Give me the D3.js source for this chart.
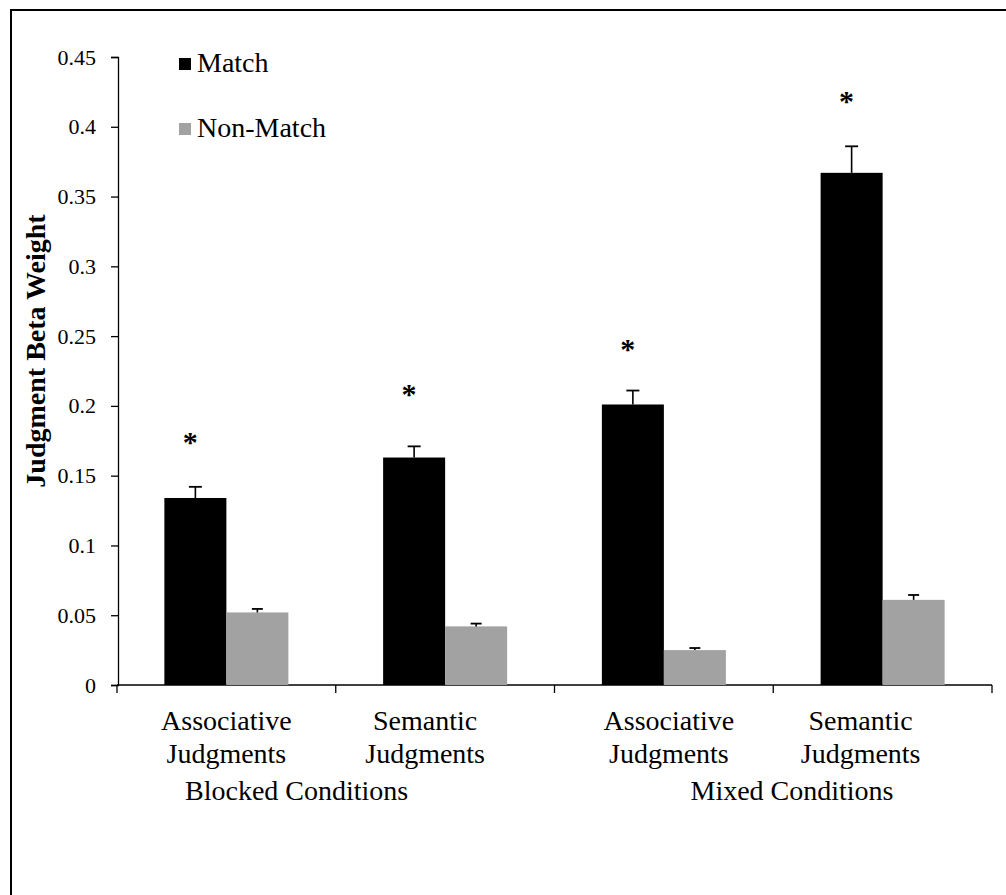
<!DOCTYPE html>
<html><head><meta charset="utf-8">
<script src="https://cdn.jsdelivr.net/npm/d3@7"></script>
</head><body style="margin:0">
<svg id="c" width="1006" height="895" style="font-family:'Liberation Serif',Tinos,'Times New Roman',serif"></svg>
<script>
const categories = ["Blocked Associative","Blocked Semantic","Mixed Associative","Mixed Semantic"];
const labelLine1 = ["Associative","Semantic","Associative","Semantic"];
const labelLine2 = ["Judgments","Judgments","Judgments","Judgments"];
const groupLabels = ["Blocked Conditions","Mixed Conditions"];
const seriesNames = ["Match","Non-Match"];
const matchValues = [0.134,0.163,0.201,0.367];
const matchErrors = [0.008,0.008,0.010,0.019];
const nonMatchValues = [0.052,0.042,0.025,0.061];
const nonMatchErrors = [0.0025,0.002,0.0015,0.0035];
const starValues = [0.178,0.212,0.244,0.422];
const yTicks = [0,0.05,0.1,0.15,0.2,0.25,0.3,0.35,0.4,0.45];
const yTitle = "Judgment Beta Weight";

const FONT = "serif";
const svg = d3.select("#c");
function T(sel){ return sel.attr("font-family",FONT); }

// frame (top and left visible)
svg.append("path").attr("d","M11,895V10H1006").attr("fill","none").attr("stroke","#000").attr("stroke-width",2);

const x = d3.scaleBand().domain(categories).range([117,992]);
const sub = d3.scaleBand().domain(seriesNames).range([0,x.bandwidth()]).paddingOuter(0.764);
const y = d3.scaleLinear().domain([0,0.45]).range([685,57]);

// y axis
const ya = svg.append("g").attr("transform","translate(118,0)")
  .call(d3.axisLeft(y).tickValues(yTicks).tickSize(7).tickPadding(15)
    .tickFormat(d=>String(+d.toFixed(2))));
ya.attr("font-family",FONT).attr("font-size",22);
ya.select(".domain").attr("stroke","#000").attr("stroke-width",1.3);
ya.selectAll(".tick line").attr("stroke","#000").attr("stroke-width",1.3);
T(ya.selectAll(".tick text")).attr("font-size",22).attr("fill","#000");

// x axis
svg.append("line").attr("x1",x.range()[0]).attr("x2",x.range()[1]).attr("y1",y(0)).attr("y2",y(0))
  .attr("stroke","#000").attr("stroke-width",1.5);
const bounds = categories.map(c=>x(c)).concat([x.range()[1]]);
svg.selectAll(".xt").data(bounds).join("line").attr("class","xt")
  .attr("x1",d=>d).attr("x2",d=>d).attr("y1",y(0)).attr("y2",y(0)+8)
  .attr("stroke","#000").attr("stroke-width",1.3);

const fills = ["#000","#a2a2a2"];
const series = [
  {name:"Match", values:matchValues, errors:matchErrors, cap:13},
  {name:"Non-Match", values:nonMatchValues, errors:nonMatchErrors, cap:11}
];
series.forEach((s,si)=>{
  const g = svg.append("g");
  g.selectAll("rect").data(categories).join("rect")
    .attr("x",c=>x(c)+sub(s.name)).attr("width",sub.bandwidth())
    .attr("y",(c,i)=>y(s.values[i])).attr("height",(c,i)=>y(0)-y(s.values[i]))
    .attr("fill",fills[si]);
  const cx = c=>x(c)+sub(s.name)+sub.bandwidth()/2;
  g.selectAll(".ev").data(categories).join("line").attr("class","ev")
    .attr("x1",cx).attr("x2",cx)
    .attr("y1",(c,i)=>y(s.values[i])).attr("y2",(c,i)=>y(s.values[i]+s.errors[i]))
    .attr("stroke","#000").attr("stroke-width",1.6);
  g.selectAll(".eh").data(categories).join("line").attr("class","eh")
    .attr("x1",c=>cx(c)-s.cap/2).attr("x2",c=>cx(c)+s.cap/2)
    .attr("y1",(c,i)=>y(s.values[i]+s.errors[i])).attr("y2",(c,i)=>y(s.values[i]+s.errors[i]))
    .attr("stroke","#000").attr("stroke-width",1.8);
});

// stars
T(svg.selectAll(".star").data(categories).join("text").attr("class","star"))
  .attr("x",c=>x(c)+sub("Match")+sub.bandwidth()/2-5)
  .attr("y",(c,i)=>y(starValues[i])+15)
  .attr("text-anchor","middle").attr("font-size",30).attr("font-weight","bold")
  .text("*");

// x labels
const labelShift = [0,-20,5,-22];
T(svg.selectAll(".xl1").data(categories).join("text").attr("class","xl1"))
  .attr("x",(c,i)=>x(c)+x.bandwidth()/2+labelShift[i]).attr("y",730).attr("text-anchor","middle")
  .attr("font-size",28).text((c,i)=>labelLine1[i]);
T(svg.selectAll(".xl2").data(categories).join("text").attr("class","xl2"))
  .attr("x",(c,i)=>x(c)+x.bandwidth()/2+labelShift[i]).attr("y",763).attr("text-anchor","middle")
  .attr("font-size",28).text((c,i)=>labelLine2[i]);
const gx = [x(categories[0])+68, x(categories[2])+136];
T(svg.selectAll(".gl").data(groupLabels).join("text").attr("class","gl"))
  .attr("x",(d,i)=>gx[i]).attr("y",800)
  .attr("font-size",28).text(d=>d);

// y title
T(svg.append("text")).attr("transform","translate(45,351) rotate(-90)").attr("text-anchor","middle")
  .attr("font-size",28).attr("font-weight","bold").text(yTitle);

// legend
seriesNames.forEach((n,i)=>{
  const ly = [58,123][i];
  svg.append("rect").attr("x",179).attr("y",ly).attr("width",12).attr("height",12).attr("fill",fills[i]);
  T(svg.append("text")).attr("x",197).attr("y",ly+14).attr("font-size",28).text(n);
});
</script>
</body></html>
